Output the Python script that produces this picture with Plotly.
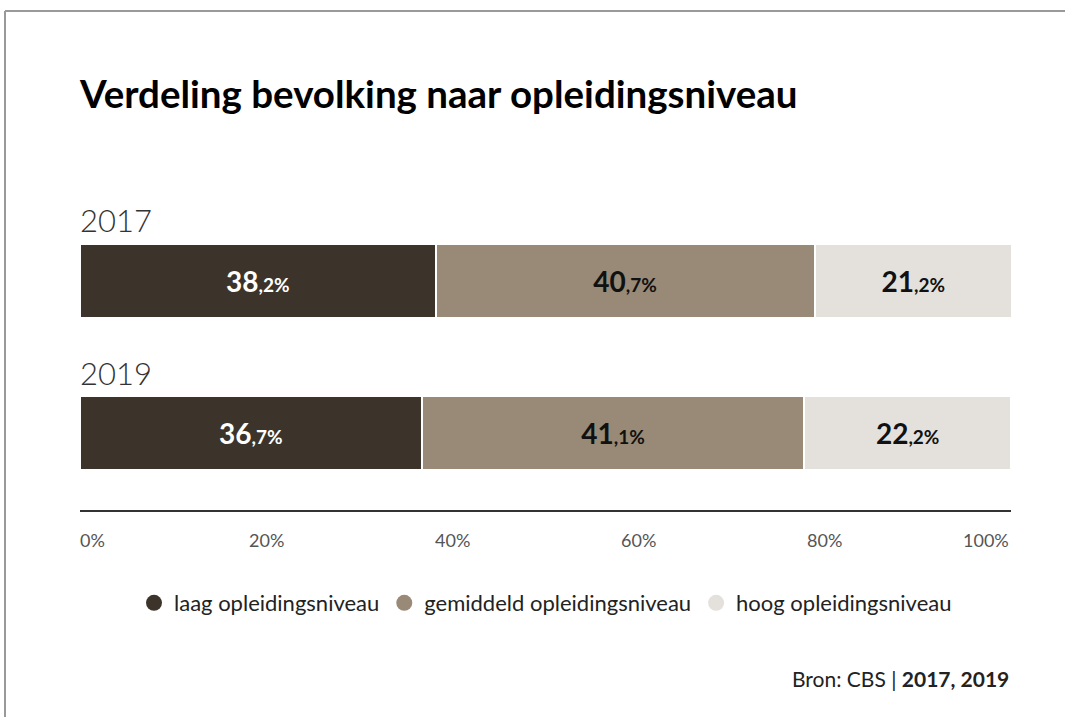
import plotly.graph_objects as go

years = ["2017", "2019"]
series_names = ["laag opleidingsniveau", "gemiddeld opleidingsniveau", "hoog opleidingsniveau"]
laag = [38.2, 36.7]
gemiddeld = [40.7, 41.1]
hoog = [21.2, 22.2]
colors = ["#3c342b", "#988a77", "#e4e1dc"]
text_colors = ["#ffffff", "#111111", "#111111"]
tick_vals = [0, 20, 40, 60, 80, 100]
tick_text = ["0%", "20%", "40%", "60%", "80%", "100%"]
title = "Verdeling bevolking naar opleidingsniveau"
source = "Bron: CBS | <b>2017, 2019</b>"

FONT = "Lato"
W, H = 1065, 717
L, R, T, B = 80, 1011, 230, 510


def label(v):
    s = f"{v:.1f}"
    whole, dec = s.split(".")
    return f"<b>{whole}</b><span style='font-size:19px'><b>,{dec}%</b></span>"


fig = go.Figure()
for name, vals, col, tcol in zip(series_names, [laag, gemiddeld, hoog], colors, text_colors):
    fig.add_trace(go.Bar(
        y=years, x=vals, orientation="h", name=name,
        marker=dict(color=col, line=dict(color="#ffffff", width=2)),
        width=0.485,
        text=[label(v) for v in vals], textposition="inside",
        insidetextanchor="middle", textangle=0, constraintext="none",
        textfont=dict(family=FONT, size=28, color=tcol),
        showlegend=False, hoverinfo="skip",
    ))
for name, col in zip(series_names, colors):
    fig.add_trace(go.Scatter(
        x=[None], y=[None], mode="markers", name=name,
        marker=dict(symbol="circle", size=22, color=col),
        showlegend=True, hoverinfo="skip",
    ))


def px_x(p):
    return (p - L) / (R - L)


def px_y(p):
    return (B - p) / (B - T)


annotations = []
for yr, pos in zip(years, [220, 373]):
    annotations.append(dict(
        x=0, y=px_y(pos), xref="x", yref="paper", text=yr, showarrow=False,
        xanchor="left", yanchor="middle", xshift=-2,
        font=dict(family=FONT, size=31, color="#333333", weight=300),
    ))
for v, t in zip(tick_vals, tick_text):
    anchor = "left" if v == tick_vals[0] else ("right" if v == tick_vals[-1] else "center")
    annotations.append(dict(
        x=v, y=px_y(540), xref="x", yref="paper", text=t, showarrow=False,
        xanchor=anchor, yanchor="middle", xshift=-2 if v == 0 else 0,
        font=dict(family=FONT, size=18, color="#555555"),
    ))
annotations.append(dict(
    x=1, y=px_y(678), xref="paper", yref="paper", text=source, showarrow=False,
    xanchor="right", yanchor="middle",
    font=dict(family=FONT, size=21, color="#222222"),
))

shapes = [
    dict(type="line", xref="paper", yref="paper", x0=px_x(5), x1=px_x(1066),
         y0=px_y(11), y1=px_y(11), line=dict(color="#999999", width=2)),
    dict(type="line", xref="paper", yref="paper", x0=px_x(5), x1=px_x(5),
         y0=px_y(11), y1=px_y(718), line=dict(color="#999999", width=2)),
]

fig.update_layout(
    width=W, height=H,
    margin=dict(l=L, r=W - R, t=T, b=H - B),
    barmode="stack",
    plot_bgcolor="#ffffff", paper_bgcolor="#ffffff",
    title=dict(text=f"<b>{title}</b>", x=L / W, xanchor="left", xref="container",
               y=1 - 95 / H, yanchor="middle", yref="container",
               font=dict(family=FONT, size=38.5, color="#000000")),
    xaxis=dict(range=[0, 100], showgrid=False, zeroline=False, showticklabels=False,
               showline=True, linecolor="#333333", linewidth=2, tickvals=tick_vals, fixedrange=True),
    yaxis=dict(type="category", range=[1.502, -0.334], showgrid=False, zeroline=False,
               showticklabels=False, showline=False, fixedrange=True),
    legend=dict(orientation="h", x=0.5, xanchor="center", y=px_y(603), yanchor="middle",
                traceorder="normal", itemwidth=30,
                font=dict(family=FONT, size=22, color="#222222"), itemclick=False,
                itemdoubleclick=False, bgcolor="rgba(0,0,0,0)"),
    annotations=annotations,
    shapes=shapes,
    showlegend=True,
)

fig.write_html("out.html", config={"displayModeBar": False},
               post_script="document.body.style.margin='0';")
